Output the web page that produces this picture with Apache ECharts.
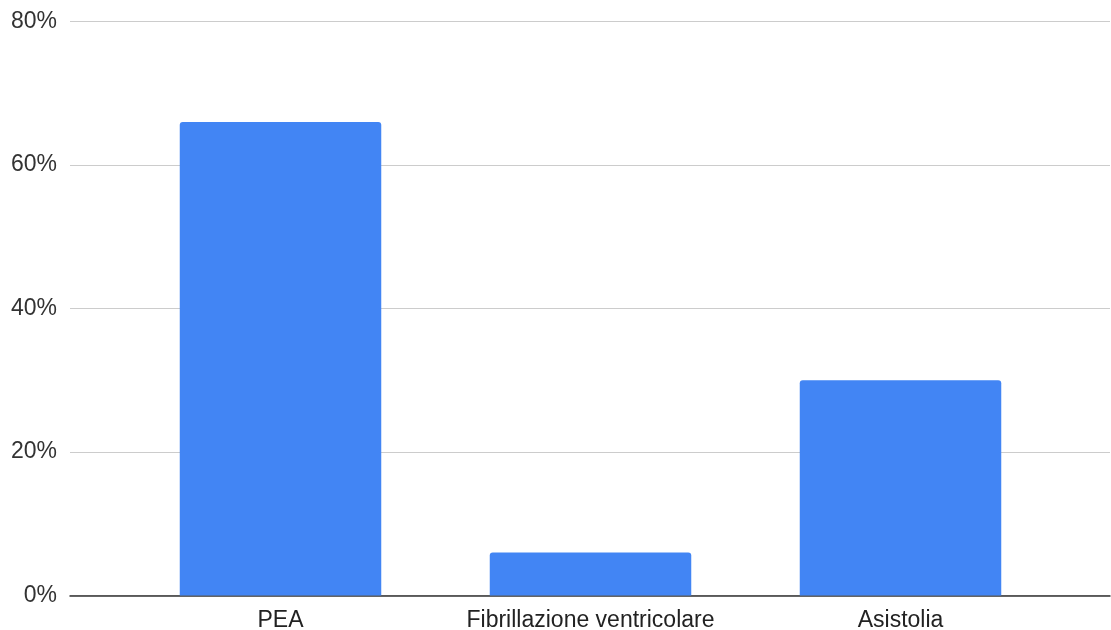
<!DOCTYPE html>
<html>
<head>
<meta charset="utf-8">
<script src="https://cdn.jsdelivr.net/npm/echarts@6/dist/echarts.min.js"></script>
<style>
  html, body { margin: 0; padding: 0; background: #fff; }
  #chart { width: 1111px; height: 630px; }
</style>
</head>
<body>
<div id="chart"></div>
<script>
// Rhythm categories and their share (%)
const categories = ['PEA', 'Fibrillazione ventricolare', 'Asistolia'];
const shares = [66, 6, 30];
const yTicks = [0, 20, 40, 60, 80];

const FONT = '"Liberation Sans", Arial, sans-serif';
const chart = echarts.init(document.getElementById('chart'), null, { renderer: 'canvas' });

chart.setOption({
  animation: false,
  backgroundColor: '#ffffff',
  grid: [
    // frame grid: gridlines, y labels and baseline span the full width
    { left: 70, right: 1, top: 21.5, bottom: 34.5, containLabel: false, outerBoundsMode: 'none' },
    // bar grid: categories sit inset within the frame
    { left: 125.5, right: 55.5, top: 21.5, bottom: 34.5, containLabel: false, outerBoundsMode: 'none' }
  ],
  xAxis: [
    {
      gridIndex: 0, type: 'value', min: 0, max: 1,
      axisLine: { show: true, lineStyle: { color: '#333333', width: 1.5 } },
      axisTick: { show: false }, axisLabel: { show: false }, splitLine: { show: false }
    },
    {
      gridIndex: 1, type: 'category', data: categories,
      axisLine: { show: false }, axisTick: { show: false },
      axisLabel: { color: '#222222', fontFamily: FONT, fontSize: 23, margin: 14,
                   interval: 0, hideOverlap: false }
    }
  ],
  yAxis: [
    {
      gridIndex: 0, type: 'value', min: yTicks[0], max: yTicks[yTicks.length - 1], interval: 20,
      axisLine: { show: false }, axisTick: { show: false },
      axisLabel: { color: '#333333', fontFamily: FONT, fontSize: 23, margin: 13,
                   verticalAlign: 'middle', padding: [3, 0, 0, 0],
                   formatter: v => v + '%' },
      splitLine: { lineStyle: { color: '#cccccc', width: 1 } }
    },
    {
      gridIndex: 1, type: 'value', min: yTicks[0], max: yTicks[yTicks.length - 1], interval: 20,
      show: false, splitLine: { show: false }
    }
  ],
  series: [
    {
      type: 'bar', xAxisIndex: 1, yAxisIndex: 1,
      data: shares,
      barWidth: '65%',
      itemStyle: { color: '#4285F4', borderRadius: [3, 3, 0, 0] },
      z: 1
    }
  ]
});
</script>
</body>
</html>
